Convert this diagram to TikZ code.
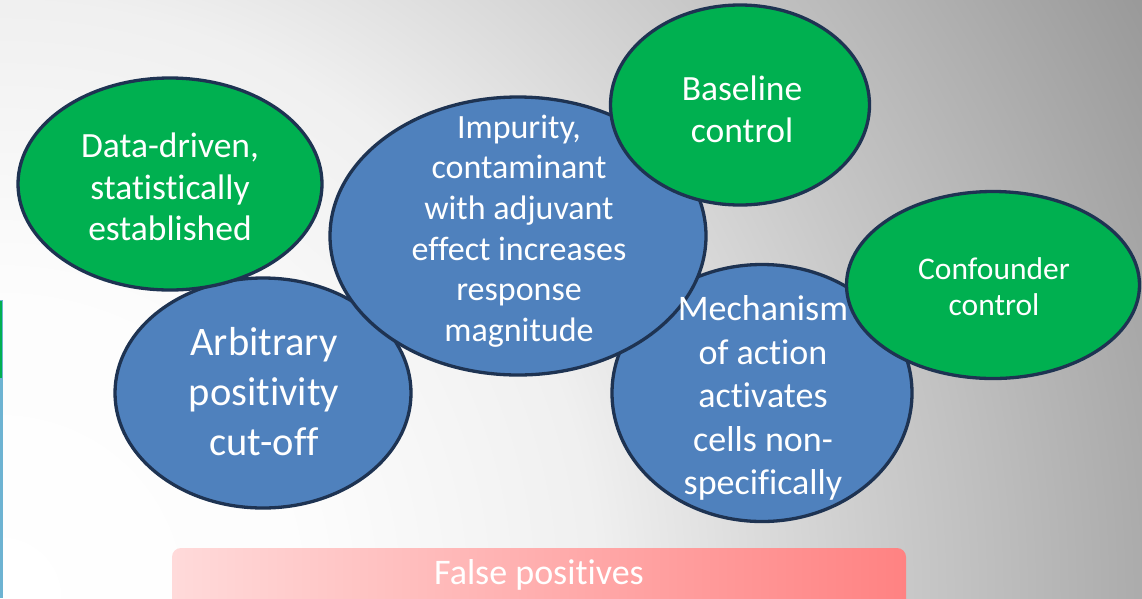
\documentclass[tikz,border=0pt]{standalone}
\usepackage{fontspec}
\setmainfont{Carlito}[Ligatures={NoCommon,NoRequired}]
\usetikzlibrary{shapes.geometric}
\definecolor{navy}{HTML}{1E3352}
\definecolor{ggreen}{HTML}{00B050}
\definecolor{bblue}{HTML}{4F81BD}
\definecolor{lblue}{HTML}{6DB3D2}
\definecolor{pinkL}{HTML}{FFDADA}
\definecolor{pinkR}{HTML}{FF8282}
\pgfdeclareradialshading{bgshade}{\pgfpoint{0bp}{0bp}}{rgb(0bp)=(1,1,1); rgb(6bp)=(0.99,0.99,0.99); rgb(11.5bp)=(0.94,0.94,0.94); rgb(17.5bp)=(0.784,0.784,0.784); rgb(25bp)=(0.596,0.596,0.596); rgb(50bp)=(0.596,0.596,0.596)}
\begin{document}
\begin{tikzpicture}[x=1pt,y=-1pt,
  oval/.style={ellipse, draw=navy, line width=3.3pt, inner sep=0pt},
  greenoval/.style={oval, fill=ggreen},
  blueoval/.style={oval, fill=bblue},
  lbl/.style={text=white, align=center, inner sep=0pt}]
\useasboundingbox (0,0) rectangle (1142,598);
\begin{scope}
  \clip (0,0) rectangle (1142,598);
  \shade[shading=bgshade] (-1300,-702) rectangle (1300,1898);
  \shade[left color=pinkL, right color=pinkR, rounded corners=9pt] (172,548) rectangle (906,615);
\end{scope}
\node[lbl, font=\fontsize{36}{41}\selectfont] (fp) at (539,575) {False positives};
% left strip
\fill[lblue] (0,300) rectangle (2.5,598);
\fill[ggreen] (0,301) rectangle (2,378);
% ellipses
\node[blueoval, minimum width=296pt, minimum height=230pt] (arb) at (263,393) {};
\node[blueoval, minimum width=300pt, minimum height=257pt] (mech) at (762,393) {};
\node[blueoval, minimum width=376pt, minimum height=278pt] (imp) at (518,236) {};
\node[greenoval, minimum width=304pt, minimum height=212pt] (data) at (170,184) {};
\node[greenoval, minimum width=259pt, minimum height=200pt] (base) at (740,105) {};
\node[greenoval, minimum width=293pt, minimum height=187pt] (conf) at (993,285) {};
% texts
\node[lbl, font=\fontsize{35.5}{41.5}\selectfont] (tdata) at (170,187) {Data-driven,\\statistically\\established};
\node[lbl, font=\fontsize{40.5}{50}\selectfont] (tarb) at (264,392) {Arbitrary\\positivity\\cut-off};
\node[lbl, font=\fontsize{34}{40.7}\selectfont] (timp) at (519,231) {Impurity,\\contaminant\\with adjuvant\\effect increases\\response\\magnitude};
\node[lbl, font=\fontsize{35.5}{42}\selectfont] (tbase) at (742,109) {Baseline\\control};
\node[lbl, font=\fontsize{36}{43.5}\selectfont] (tmech) at (763,398) {Mechanism\\of action\\activates\\cells non-\\specifically};
\node[lbl, font=\fontsize{31.5}{36}\selectfont] (tconf) at (994,287) {Confounder\\control};
\end{tikzpicture}
\end{document}
